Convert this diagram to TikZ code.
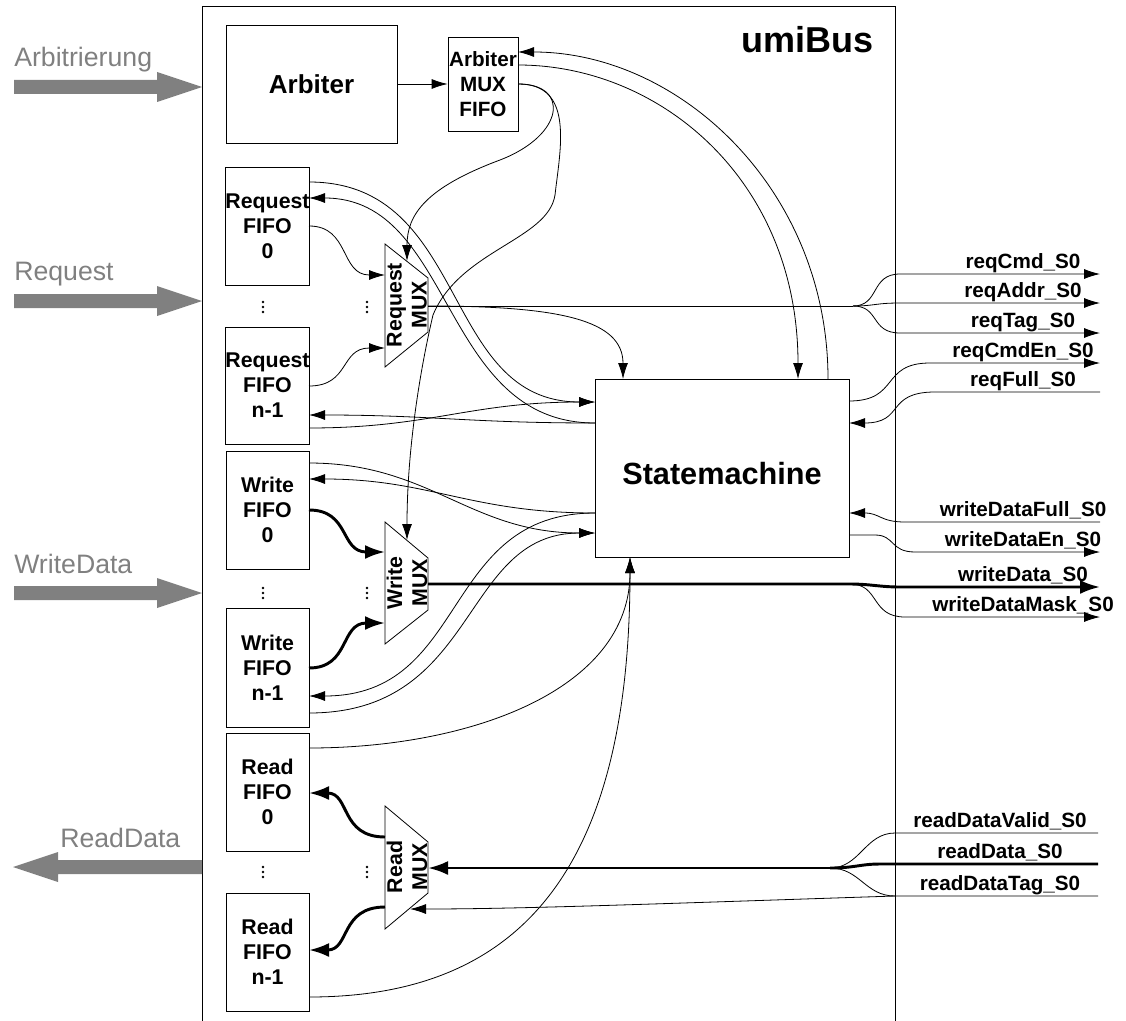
\documentclass[tikz,border=0pt]{standalone}
\usepackage{fontspec}
\setmainfont{Liberation Sans}
\usetikzlibrary{arrows.meta}
\newcommand\setfs[2]{\fontsize{#1}{#2}\selectfont}
\definecolor{portgray}{HTML}{808080}

\begin{document}
\begin{tikzpicture}[x=0.75pt,y=-0.75pt,
  box/.style={draw, line width=0.6pt, inner sep=0pt, align=center, font=\setfs{16}{18.75}\bfseries},
  wire/.style={line width=0.6pt},
  sig/.style={wire, -{Latex[length=12pt,width=7.5pt]}},
  bus/.style={line width=2.2pt},
  busarr/.style={bus, -{Latex[length=15pt,width=10.5pt]}},
  lbl/.style={font=\setfs{15.5}{18}\bfseries, anchor=base, inner sep=0pt},
  portshape/.style={fill=portgray, draw=none},
  portlbl/.style={font=\setfs{20}{24}, text=portgray, anchor=base west, inner sep=0pt},
  muxtxt/.style={rotate=90, align=center, inner sep=0pt, font=\setfs{16}{18.75}\bfseries}
]
\useasboundingbox (0,0) rectangle (1126,1020);

% ---------- umiBus frame ----------
\draw[wire] (202,1021) |- (895,6) -- (895,1021);
\node[font=\setfs{27}{30}\bfseries, anchor=base east, inner sep=0pt] (title) at (874,53) {umiBus};

% ---------- external ports ----------
\fill[portshape] (14,80) -- (157,80) -- (157,72) -- (202,87) -- (157,102) -- (157,94) -- (14,94) -- cycle;
\fill[portshape] (14,294) -- (157,294) -- (157,286) -- (202,301) -- (157,316) -- (157,308) -- (14,308) -- cycle;
\fill[portshape] (14,586) -- (157,586) -- (157,578) -- (202,593) -- (157,608) -- (157,600) -- (14,600) -- cycle;
\fill[portshape] (202,860) -- (58,860) -- (58,852) -- (13,867) -- (58,882) -- (58,874) -- (202,874) -- cycle;
\node[portlbl] (pArb) at (14,67) {Arbitrierung};
\node[portlbl] (pReq) at (14,280) {Request};
\node[portlbl] (pWr) at (14,573) {WriteData};
\node[portlbl] (pRd) at (60,847) {ReadData};

% ---------- blocks ----------
\node[box, minimum width=128.25pt, minimum height=88.5pt, font=\setfs{19.5}{22}\bfseries] (arb) at (311.5,84) {Arbiter};
\node[box, minimum width=52.5pt, minimum height=70.5pt, font=\setfs{15.5}{18.75}\bfseries] (amux) at (483,84) {Arbiter\\MUX\\FIFO};
\node[box, minimum width=190.5pt, minimum height=133.5pt] (sm) at (722,468) {};
\node[font=\setfs{23}{26}\bfseries, inner sep=0pt] (smtxt) at (722,474) {Statemachine};

\node[box, minimum width=62.25pt, minimum height=88.5pt] (rf0) at (267.5,226) {Request\\FIFO\\0};
\node[box, minimum width=62.25pt, minimum height=87.75pt] (rfn) at (267.5,385.5) {Request\\FIFO\\n-1};
\node[box, minimum width=62.25pt, minimum height=88.5pt] (wf0) at (267.5,510) {Write\\FIFO\\0};
\node[box, minimum width=62.25pt, minimum height=89.25pt] (wfn) at (267.5,667.5) {Write\\FIFO\\n-1};
\node[box, minimum width=62.25pt, minimum height=88.5pt] (df0) at (267.5,792) {Read\\FIFO\\0};
\node[box, minimum width=62.25pt, minimum height=88.5pt] (dfn) at (267.5,952) {Read\\FIFO\\n-1};

% multiplexers
\draw[wire] (385,244) -- (428,278) -- (428,332) -- (385,367) -- cycle;
\node[muxtxt] (rmuxt) at (407,305) {Request\\MUX};
\draw[wire] (385,522) -- (428,558) -- (428,610) -- (385,644) -- cycle;
\node[muxtxt] (wmuxt) at (407,583) {Write\\MUX};
\draw[wire] (385,806) -- (428,842) -- (428,893) -- (385,929) -- cycle;
\node[muxtxt] (dmuxt) at (407,867) {Read\\MUX};

% ellipsis dots
\foreach \y in {307,593,872} {
  \foreach \x in {263,367} {
    \fill (\x,\y-5) circle (1.3); \fill (\x,\y) circle (1.3); \fill (\x,\y+5) circle (1.3);
  }
}

% ---------- ports of the blocks ----------
\coordinate (amIn)  at (518,52);
\coordinate (amOut) at (518,65);
\coordinate (smT0) at (623,379);
\coordinate (smT1) at (798,379);
\coordinate (smT2) at (828,379);
\coordinate (smL1) at (595,402);
\coordinate (smL2) at (595,423);
\coordinate (smL3) at (595,513);
\coordinate (smL4) at (595,533);
\coordinate (smB)  at (630,557);
\coordinate (smR1) at (849,401);
\coordinate (smR2) at (849,423);
\coordinate (smR3) at (849,513);
\coordinate (smR4) at (849,535);

\coordinate (rf0o) at (309,182); \coordinate (rf0i) at (309,198); \coordinate (rf0d) at (309,226);
\coordinate (rfnd) at (309,386); \coordinate (rfni) at (309,415); \coordinate (rfno) at (309,428);
\coordinate (wf0o) at (309,463); \coordinate (wf0i) at (309,479); \coordinate (wf0d) at (309,510);
\coordinate (wfnd) at (309,668); \coordinate (wfni) at (309,696); \coordinate (wfno) at (309,713);
\coordinate (df0o) at (309,748); \coordinate (df0d) at (309,793);
\coordinate (dfnd) at (309,950); \coordinate (dfno) at (309,997);

\coordinate (rmI0) at (385,275); \coordinate (rmI1) at (385,348);
\coordinate (rmS) at (407,261);  \coordinate (rmO) at (428,306);
\coordinate (wmI0) at (385,552); \coordinate (wmI1) at (385,623);
\coordinate (wmS) at (407,540);  \coordinate (wmO) at (428,584);
\coordinate (dmI) at (428,868);  \coordinate (dmT) at (410,909);
\coordinate (dmO0) at (385,837); \coordinate (dmO1) at (385,907);

\coordinate (reqFan) at (853,306);
\coordinate (wrFan) at (850,584);
\coordinate (rdFan) at (830,868);

% ---------- arbiter paths ----------
\draw[sig] (arb.east) -- (amux.west);
\draw[sig] (smT2) .. controls (828,190) and (680,52) .. (amIn);
\draw[sig] (amOut) .. controls (660,65) and (798,180) .. (smT1);
\draw[sig] (amux.east) .. controls (570,84) and (565,135) .. (500,160)
           .. controls (425,188) and (407,215) .. (rmS);
\draw[sig] (amux.east) .. controls (575,84) and (560,150) .. (555,195)
           .. controls (548,240) and (460,250) .. (433,315)
           .. controls (420,370) and (407,450) .. (wmS);

% ---------- request path ----------
\draw[sig] (rf0d) .. controls (350,226) and (340,275) .. (rmI0);
\draw[sig] (rfnd) .. controls (350,386) and (340,348) .. (rmI1);
\draw[wire] (rmO) -- (reqFan);
\draw[sig] (rmO) .. controls (560,306) and (623,320) .. (smT0);
\draw[sig] (reqFan) .. controls (880,306) and (870,274) .. (900,274) -- (1100,274);
\draw[sig] (reqFan) .. controls (875,306) and (875,303) .. (900,303) -- (1100,303);
\draw[sig] (reqFan) .. controls (880,306) and (870,333) .. (900,333) -- (1100,333);
\draw[sig] (smR1) .. controls (900,401) and (880,363) .. (930,363) -- (1100,363);
\draw[sig] (1100,392) -- (935,392) .. controls (885,392) and (905,423) .. (smR2);

\draw[sig] (rf0o) .. controls (470,182) and (440,402) .. (smL1);
\draw[sig] (smL2) .. controls (440,423) and (455,198) .. (rf0i);
\draw[sig] (rfno) .. controls (430,428) and (470,402) .. (smL1);
\draw[sig] (smL2) .. controls (470,423) and (430,415) .. (rfni);

% ---------- write path ----------
\draw[busarr] (wf0d) .. controls (350,510) and (340,552) .. (wmI0);
\draw[busarr] (wfnd) .. controls (350,668) and (340,623) .. (wmI1);
\draw[sig] (wf0o) .. controls (430,463) and (470,533) .. (smL4);
\draw[sig] (smL3) .. controls (470,513) and (430,479) .. (wf0i);
\draw[sig] (smL3) .. controls (440,513) and (470,696) .. (wfni);
\draw[sig] (wfno) .. controls (480,713) and (460,533) .. (smL4);

\draw[sig] (1100,522) -- (905,522) .. controls (880,522) and (880,513) .. (smR3);
\draw[sig] (smR4) -- (875,535) .. controls (895,535) and (890,552) .. (915,552) -- (1100,552);
\draw[busarr] (wmO) -- (wrFan) .. controls (870,584) and (880,587) .. (900,587) -- (1100,587);
\draw[sig] (wrFan) .. controls (880,584) and (870,617) .. (905,617) -- (1100,617);

% ---------- read path ----------
\draw[busarr] (dmO0) .. controls (340,837) and (350,793) .. (df0d);
\draw[busarr] (dmO1) .. controls (340,907) and (350,950) .. (dfnd);
\draw[sig] (df0o) .. controls (470,748) and (630,690) .. (smB);
\draw[sig] (dfno) .. controls (520,997) and (630,870) .. (smB);

\draw[bus] (1098,864) -- (880,864) .. controls (860,864) and (855,868) .. (rdFan);
\draw[busarr] (rdFan) -- (dmI);
\draw[wire] (1098,833) -- (895,833) .. controls (865,833) and (860,868) .. (rdFan);
\draw[wire] (1098,896) -- (895,896) .. controls (865,896) and (860,868) .. (rdFan);
\draw[sig] (895,896) .. controls (650,904) and (520,909) .. (dmT);

% ---------- signal names ----------
\node[lbl] (nReqCmd)   at (1023,268) {reqCmd\_S0};
\node[lbl] (nReqAddr)  at (1023,297) {reqAddr\_S0};
\node[lbl] (nReqTag)   at (1023,327) {reqTag\_S0};
\node[lbl] (nReqCmdEn) at (1023,357) {reqCmdEn\_S0};
\node[lbl] (nReqFull)  at (1023,386) {reqFull\_S0};
\node[lbl] (nWdFull)   at (1023,516) {writeDataFull\_S0};
\node[lbl] (nWdEn)     at (1023,546) {writeDataEn\_S0};
\node[lbl] (nWd)       at (1023,581) {writeData\_S0};
\node[lbl] (nWdMask)   at (1023,611) {writeDataMask\_S0};
\node[lbl] (nRdValid)  at (1000,827) {readDataValid\_S0};
\node[lbl] (nRd)       at (1000,858) {readData\_S0};
\node[lbl] (nRdTag)    at (1000,890) {readDataTag\_S0};
\end{tikzpicture}
\end{document}
